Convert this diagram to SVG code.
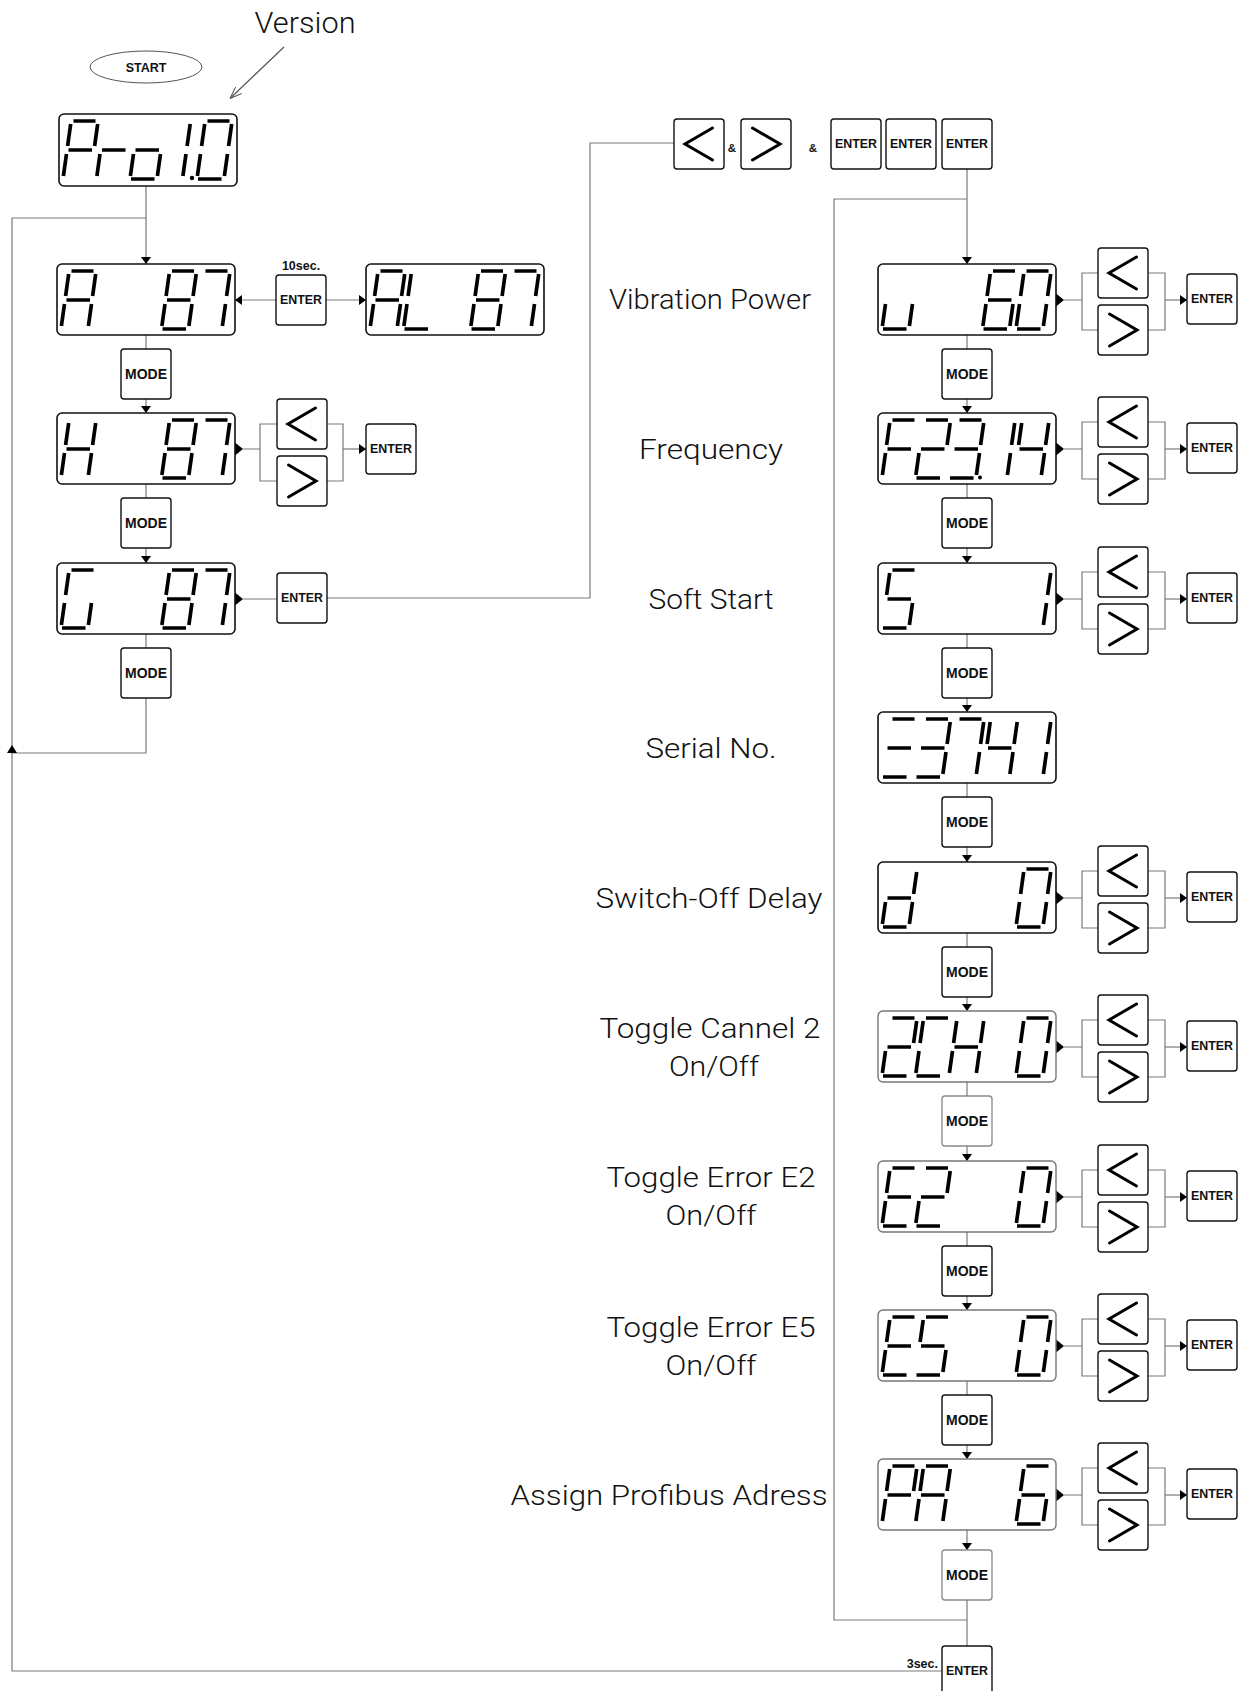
<svg xmlns="http://www.w3.org/2000/svg" width="1244" height="1691" viewBox="0 0 1244 1691">
<style>
.ln{fill:none;stroke:#7a7a7a;stroke-width:1.2}
.dsp{fill:#fff;stroke:#111;stroke-width:1.6}
.dspg{fill:#fff;stroke:#777;stroke-width:1.4}
.seg{fill:none;stroke:#000;stroke-width:3.7}
.bx{fill:#fff;stroke:#111;stroke-width:1.4}
.bxg{fill:#fff;stroke:#888;stroke-width:1.3}
.chv{fill:none;stroke:#000;stroke-width:3;stroke-linecap:round}
.bt{font-family:"Liberation Sans",Arial,sans-serif;font-weight:bold;text-anchor:middle;fill:#111}
.en{font-size:12.4px}
.md{font-size:14px}
.sm{font-size:12.5px;font-weight:900}
.lab{font-family:Roboto,"Liberation Sans",sans-serif;font-weight:300;font-size:28px;text-anchor:middle;fill:#111}
.tri{fill:#000;stroke:none}
</style>
<defs>
<marker id="ah" viewBox="0 0 7 10" refX="7" refY="5" markerWidth="7" markerHeight="10" markerUnits="userSpaceOnUse" orient="auto"><path d="M0,0L7,5L0,10z" fill="#000"/></marker>
<marker id="oa" viewBox="0 0 12 9" refX="12" refY="4.5" markerWidth="12" markerHeight="9" markerUnits="userSpaceOnUse" orient="auto"><path d="M0,0L12,4.5L0,9" fill="none" stroke="#555" stroke-width="1"/></marker>
<path id="tr" class="tri" d="M0,-6.5L8,0L0,6.5z"/>
<path id="ch-l" class="chv" d="M38.5,9L11,25L38.5,41"/>
<path id="ch-g" class="chv" d="M11.5,9L39,25L11.5,41"/>
<path id="g-0" class="seg" d="M10.5,-58H32.5M31.6,-33L34.7,-55M27.4,-3L30.5,-25M1,0H24.5M0.4,-3L3.5,-25M4.6,-33L7.7,-55"/>
<path id="g-1" class="seg" d="M31.6,-33L34.7,-55M27.4,-3L30.5,-25"/>
<path id="g-2" class="seg" d="M10.5,-58H32.5M31.6,-33L34.7,-55M5.5,-29H29M0.4,-3L3.5,-25M1,0H24.5"/>
<path id="g-3" class="seg" d="M10.5,-58H32.5M31.6,-33L34.7,-55M5.5,-29H29M27.4,-3L30.5,-25M1,0H24.5"/>
<path id="g-4" class="seg" d="M4.6,-33L7.7,-55M5.5,-29H29M31.6,-33L34.7,-55M27.4,-3L30.5,-25"/>
<path id="g-5" class="seg" d="M10.5,-58H32.5M4.6,-33L7.7,-55M5.5,-29H29M27.4,-3L30.5,-25M1,0H24.5"/>
<path id="g-6" class="seg" d="M10.5,-58H32.5M4.6,-33L7.7,-55M5.5,-29H29M0.4,-3L3.5,-25M1,0H24.5M27.4,-3L30.5,-25"/>
<path id="g-7" class="seg" d="M10.5,-58H32.5M31.6,-33L34.7,-55M27.4,-3L30.5,-25"/>
<path id="g-8" class="seg" d="M10.5,-58H32.5M31.6,-33L34.7,-55M27.4,-3L30.5,-25M1,0H24.5M0.4,-3L3.5,-25M4.6,-33L7.7,-55M5.5,-29H29"/>
<path id="g-A" class="seg" d="M10.5,-58H32.5M31.6,-33L34.7,-55M27.4,-3L30.5,-25M0.4,-3L3.5,-25M4.6,-33L7.7,-55M5.5,-29H29"/>
<path id="g-C" class="seg" d="M10.5,-58H32.5M1,0H24.5M0.4,-3L3.5,-25M4.6,-33L7.7,-55"/>
<path id="g-E" class="seg" d="M10.5,-58H32.5M1,0H24.5M0.4,-3L3.5,-25M4.6,-33L7.7,-55M5.5,-29H29"/>
<path id="g-F" class="seg" d="M10.5,-58H32.5M0.4,-3L3.5,-25M4.6,-33L7.7,-55M5.5,-29H29"/>
<path id="g-G" class="seg" d="M10.5,-58H32.5M27.4,-3L30.5,-25M1,0H24.5M0.4,-3L3.5,-25M4.6,-33L7.7,-55"/>
<path id="g-H" class="seg" d="M31.6,-33L34.7,-55M27.4,-3L30.5,-25M0.4,-3L3.5,-25M4.6,-33L7.7,-55M5.5,-29H29"/>
<path id="g-L" class="seg" d="M1,0H24.5M0.4,-3L3.5,-25M4.6,-33L7.7,-55"/>
<path id="g-P" class="seg" d="M10.5,-58H32.5M31.6,-33L34.7,-55M0.4,-3L3.5,-25M4.6,-33L7.7,-55M5.5,-29H29"/>
<path id="g-d" class="seg" d="M31.6,-33L34.7,-55M27.4,-3L30.5,-25M1,0H24.5M0.4,-3L3.5,-25M5.5,-29H29"/>
<path id="g-r" class="seg" d="M0.4,-3L3.5,-25M5.5,-29H29"/>
<path id="g-o" class="seg" d="M27.4,-3L30.5,-25M1,0H24.5M0.4,-3L3.5,-25M5.5,-29H29"/>
<path id="g-u" class="seg" d="M27.4,-3L30.5,-25M1,0H24.5M0.4,-3L3.5,-25"/>
<path id="g-eq" class="seg" d="M10.5,-58H32.5M5.5,-29H29M1,0H24.5"/>
</defs>
<rect width="1244" height="1691" fill="#fff"/>

<g id="connectors" class="ln">
<path d="M284,47L230,98.5" stroke="#555" marker-end="url(#oa)"/>
<path d="M146,186V264" marker-end="url(#ah)"/>
<path d="M942,1671H12V218H146"/>
<path d="M146,335V349"/>
<path d="M146,399V413" marker-end="url(#ah)"/>
<path d="M276,300H235" marker-end="url(#ah)"/>
<path d="M326,300H366" marker-end="url(#ah)"/>
<path d="M146,484V498"/>
<path d="M146,548V563" marker-end="url(#ah)"/>
<path d="M243,449H260M277,424H260V481H277M327,424H343V481H327"/>
<path d="M343,449H366" marker-end="url(#ah)"/>
<path d="M243,599H277"/>
<path d="M327,598H590V143H674"/>
<path d="M146,634V648"/>
<path d="M146,698V753H12"/>
<path d="M967,169V264" marker-end="url(#ah)"/>
<path d="M967,199H834V1620H967"/>
<path d="M1064,300H1082M1098,273H1082V330H1098M1148,273H1165V330H1148"/>
<path d="M1165,300H1187" marker-end="url(#ah)"/>
<path d="M967,335V349"/>
<path d="M967,399V413" marker-end="url(#ah)"/>
<path d="M1064,449H1082M1098,422H1082V479H1098M1148,422H1165V479H1148"/>
<path d="M1165,449H1187" marker-end="url(#ah)"/>
<path d="M967,484V498"/>
<path d="M967,548V563" marker-end="url(#ah)"/>
<path d="M1064,599H1082M1098,572H1082V629H1098M1148,572H1165V629H1148"/>
<path d="M1165,599H1187" marker-end="url(#ah)"/>
<path d="M967,634V648"/>
<path d="M967,698V712" marker-end="url(#ah)"/>
<path d="M967,783V797"/>
<path d="M967,847V862" marker-end="url(#ah)"/>
<path d="M1064,898H1082M1098,871H1082V928H1098M1148,871H1165V928H1148"/>
<path d="M1165,898H1187" marker-end="url(#ah)"/>
<path d="M967,933V947"/>
<path d="M967,997V1011" marker-end="url(#ah)"/>
<path d="M1064,1047H1082M1098,1020H1082V1077H1098M1148,1020H1165V1077H1148"/>
<path d="M1165,1047H1187" marker-end="url(#ah)"/>
<path d="M967,1082V1096"/>
<path d="M967,1146V1161" marker-end="url(#ah)"/>
<path d="M1064,1197H1082M1098,1170H1082V1227H1098M1148,1170H1165V1227H1148"/>
<path d="M1165,1197H1187" marker-end="url(#ah)"/>
<path d="M967,1232V1246"/>
<path d="M967,1296V1310" marker-end="url(#ah)"/>
<path d="M1064,1346H1082M1098,1319H1082V1376H1098M1148,1319H1165V1376H1148"/>
<path d="M1165,1346H1187" marker-end="url(#ah)"/>
<path d="M967,1381V1395"/>
<path d="M967,1445V1459" marker-end="url(#ah)"/>
<path d="M1064,1495H1082M1098,1468H1082V1525H1098M1148,1468H1165V1525H1148"/>
<path d="M1165,1495H1187" marker-end="url(#ah)"/>
<path d="M967,1530V1550" marker-end="url(#ah)"/>
<path d="M967,1600V1646"/>
<polygon class="tri" points="12,745 7,753 17,753"/>
<use href="#tr" x="235" y="449"/>
<use href="#tr" x="235" y="599"/>
<use href="#tr" x="1056" y="300"/>
<use href="#tr" x="1056" y="449"/>
<use href="#tr" x="1056" y="599"/>
<use href="#tr" x="1056" y="898"/>
<use href="#tr" x="1056" y="1047"/>
<use href="#tr" x="1056" y="1197"/>
<use href="#tr" x="1056" y="1346"/>
<use href="#tr" x="1056" y="1495"/>
</g>

<g id="labels">
<text class="lab" x="305" y="33" style="font-size:30px" textLength="101" lengthAdjust="spacingAndGlyphs">Version</text>
<text class="lab" x="710" y="309" textLength="202" lengthAdjust="spacingAndGlyphs">Vibration Power</text>
<text class="lab" x="711" y="459" textLength="144" lengthAdjust="spacingAndGlyphs">Frequency</text>
<text class="lab" x="711" y="609" textLength="125" lengthAdjust="spacingAndGlyphs">Soft Start</text>
<text class="lab" x="711" y="758" textLength="131" lengthAdjust="spacingAndGlyphs">Serial No.</text>
<text class="lab" x="709" y="908" textLength="227" lengthAdjust="spacingAndGlyphs">Switch-Off Delay</text>
<text class="lab" x="710" y="1038" textLength="221" lengthAdjust="spacingAndGlyphs">Toggle Cannel 2</text>
<text class="lab" x="714" y="1076" textLength="90" lengthAdjust="spacingAndGlyphs">On/Off</text>
<text class="lab" x="711" y="1187" textLength="209" lengthAdjust="spacingAndGlyphs">Toggle Error E2</text>
<text class="lab" x="711" y="1225" textLength="91" lengthAdjust="spacingAndGlyphs">On/Off</text>
<text class="lab" x="711" y="1337" textLength="209" lengthAdjust="spacingAndGlyphs">Toggle Error E5</text>
<text class="lab" x="711" y="1375" textLength="91" lengthAdjust="spacingAndGlyphs">On/Off</text>
<text class="lab" x="669" y="1505" textLength="317" lengthAdjust="spacingAndGlyphs">Assign Profibus Adress</text>
</g>

<g id="start"><ellipse cx="146" cy="67" rx="56" ry="16" fill="#fff" stroke="#555" stroke-width="1"/><text class="bt" style="font-size:12.5px" x="146" y="71.5">START</text></g>

<g id="disp-pro"><rect class="dsp" x="59" y="114" width="178" height="72" rx="5"/><use href="#g-P" x="63" y="179"/><use href="#g-r" x="96.5" y="179"/><use href="#g-o" x="130" y="179"/><use href="#g-1" x="155.5" y="179"/><circle cx="192" cy="178" r="2.2"/><use href="#g-0" x="197" y="179"/></g>
<g id="disp-a"><rect class="dsp" x="57" y="264" width="178" height="71" rx="5"/><use href="#g-A" x="61" y="329"/><use href="#g-8" x="161.5" y="329"/><use href="#g-7" x="195" y="329"/></g>
<g id="btn-enter-10s"><rect class="bx" x="276" y="275" width="50" height="50" rx="3"/><text class="bt en" x="301" y="304.4">ENTER</text><text class="bt sm" x="301" y="270">10sec.</text></g>
<g id="disp-al"><rect class="dsp" x="366" y="264" width="178" height="71" rx="5"/><use href="#g-A" x="370" y="329"/><use href="#g-L" x="403.5" y="329"/><use href="#g-8" x="470.5" y="329"/><use href="#g-7" x="504" y="329"/></g>
<g id="btn-mode-l1"><rect class="bx" x="121" y="349" width="50" height="50" rx="3"/><text class="bt md" x="146" y="379">MODE</text></g>
<g id="disp-h"><rect class="dsp" x="57" y="413" width="178" height="71" rx="5"/><use href="#g-H" x="61" y="478"/><use href="#g-8" x="161.5" y="478"/><use href="#g-7" x="195" y="478"/></g>
<g id="btn-lt-h"><rect class="bx" x="277" y="399" width="50" height="50" rx="3"/><use href="#ch-l" x="277" y="399"/></g>
<g id="btn-gt-h"><rect class="bx" x="277" y="456" width="50" height="50" rx="3"/><use href="#ch-g" x="277" y="456"/></g>
<g id="btn-enter-h"><rect class="bx" x="366" y="424" width="50" height="50" rx="3"/><text class="bt en" x="391" y="453.4">ENTER</text></g>
<g id="btn-mode-l2"><rect class="bx" x="121" y="498" width="50" height="50" rx="3"/><text class="bt md" x="146" y="528">MODE</text></g>
<g id="disp-g"><rect class="dsp" x="57" y="563" width="178" height="71" rx="5"/><use href="#g-G" x="61" y="628"/><use href="#g-8" x="161.5" y="628"/><use href="#g-7" x="195" y="628"/></g>
<g id="btn-enter-g"><rect class="bx" x="277" y="573" width="50" height="50" rx="3"/><text class="bt en" x="302" y="602.4">ENTER</text></g>
<g id="btn-mode-l3"><rect class="bx" x="121" y="648" width="50" height="50" rx="3"/><text class="bt md" x="146" y="678">MODE</text></g>

<g id="combo">
<rect class="bx" x="674" y="119" width="50" height="50" rx="3"/><use href="#ch-l" x="674" y="119"/>
<text class="bt sm" x="732" y="152" style="font-size:11.5px">&amp;</text>
<rect class="bx" x="741" y="119" width="50" height="50" rx="3"/><use href="#ch-g" x="741" y="119"/>
<text class="bt sm" x="813" y="152" style="font-size:11.5px">&amp;</text>
<rect class="bx" x="831" y="119" width="50" height="50" rx="3"/><text class="bt en" x="856" y="148.4">ENTER</text>
<rect class="bx" x="886" y="119" width="50" height="50" rx="3"/><text class="bt en" x="911" y="148.4">ENTER</text>
<rect class="bx" x="942" y="119" width="50" height="50" rx="3"/><text class="bt en" x="967" y="148.4">ENTER</text>
</g>

<g id="row-vib">
<rect class="dsp" x="878" y="264" width="178" height="71" rx="5"/><use href="#g-u" x="882" y="329"/><use href="#g-6" x="982.5" y="329"/><use href="#g-0" x="1016" y="329"/>
<rect class="bx" x="1098" y="248" width="50" height="50" rx="3"/><use href="#ch-l" x="1098" y="248"/>
<rect class="bx" x="1098" y="305" width="50" height="50" rx="3"/><use href="#ch-g" x="1098" y="305"/>
<rect class="bx" x="1187" y="274" width="50" height="50" rx="3"/><text class="bt en" x="1212" y="303.4">ENTER</text>
<rect class="bx" x="942" y="349" width="50" height="50" rx="3"/><text class="bt md" x="967" y="379">MODE</text>
</g>
<g id="row-freq">
<rect class="dsp" x="878" y="413" width="178" height="71" rx="5"/><use href="#g-F" x="882" y="478"/><use href="#g-2" x="915.5" y="478"/><use href="#g-3" x="949" y="478"/><circle cx="980" cy="477.5" r="2"/><use href="#g-1" x="980" y="478"/><use href="#g-4" x="1014" y="478"/>
<rect class="bx" x="1098" y="397" width="50" height="50" rx="3"/><use href="#ch-l" x="1098" y="397"/>
<rect class="bx" x="1098" y="454" width="50" height="50" rx="3"/><use href="#ch-g" x="1098" y="454"/>
<rect class="bx" x="1187" y="423" width="50" height="50" rx="3"/><text class="bt en" x="1212" y="452.4">ENTER</text>
<rect class="bx" x="942" y="498" width="50" height="50" rx="3"/><text class="bt md" x="967" y="528">MODE</text>
</g>
<g id="row-soft">
<rect class="dsp" x="878" y="563" width="178" height="71" rx="5"/><use href="#g-5" x="882" y="628"/><use href="#g-1" x="1016" y="628"/>
<rect class="bx" x="1098" y="547" width="50" height="50" rx="3"/><use href="#ch-l" x="1098" y="547"/>
<rect class="bx" x="1098" y="604" width="50" height="50" rx="3"/><use href="#ch-g" x="1098" y="604"/>
<rect class="bx" x="1187" y="573" width="50" height="50" rx="3"/><text class="bt en" x="1212" y="602.4">ENTER</text>
<rect class="bx" x="942" y="648" width="50" height="50" rx="3"/><text class="bt md" x="967" y="678">MODE</text>
</g>
<g id="row-serial">
<rect class="dsp" x="878" y="712" width="178" height="71" rx="5"/><use href="#g-eq" x="882" y="777"/><use href="#g-3" x="915.5" y="777"/><use href="#g-7" x="949" y="777"/><use href="#g-4" x="982.5" y="777"/><use href="#g-1" x="1016" y="777"/>
<rect class="bx" x="942" y="797" width="50" height="50" rx="3"/><text class="bt md" x="967" y="827">MODE</text>
</g>
<g id="row-delay">
<rect class="dsp" x="878" y="862" width="178" height="71" rx="5"/><use href="#g-d" x="882" y="927"/><use href="#g-0" x="1016" y="927"/>
<rect class="bx" x="1098" y="846" width="50" height="50" rx="3"/><use href="#ch-l" x="1098" y="846"/>
<rect class="bx" x="1098" y="903" width="50" height="50" rx="3"/><use href="#ch-g" x="1098" y="903"/>
<rect class="bx" x="1187" y="872" width="50" height="50" rx="3"/><text class="bt en" x="1212" y="901.4">ENTER</text>
<rect class="bx" x="942" y="947" width="50" height="50" rx="3"/><text class="bt md" x="967" y="977">MODE</text>
</g>
<g id="row-2ch">
<rect class="dspg" x="878" y="1011" width="178" height="71" rx="5"/><use href="#g-2" x="882" y="1076"/><use href="#g-C" x="915.5" y="1076"/><use href="#g-H" x="949" y="1076"/><use href="#g-0" x="1016" y="1076"/>
<rect class="bx" x="1098" y="995" width="50" height="50" rx="3"/><use href="#ch-l" x="1098" y="995"/>
<rect class="bx" x="1098" y="1052" width="50" height="50" rx="3"/><use href="#ch-g" x="1098" y="1052"/>
<rect class="bx" x="1187" y="1021" width="50" height="50" rx="3"/><text class="bt en" x="1212" y="1050.4">ENTER</text>
<rect class="bxg" x="942" y="1096" width="50" height="50" rx="3"/><text class="bt md" x="967" y="1126">MODE</text>
</g>
<g id="row-e2">
<rect class="dspg" x="878" y="1161" width="178" height="71" rx="5"/><use href="#g-E" x="882" y="1226"/><use href="#g-2" x="915.5" y="1226"/><use href="#g-0" x="1016" y="1226"/>
<rect class="bx" x="1098" y="1145" width="50" height="50" rx="3"/><use href="#ch-l" x="1098" y="1145"/>
<rect class="bx" x="1098" y="1202" width="50" height="50" rx="3"/><use href="#ch-g" x="1098" y="1202"/>
<rect class="bx" x="1187" y="1171" width="50" height="50" rx="3"/><text class="bt en" x="1212" y="1200.4">ENTER</text>
<rect class="bx" x="942" y="1246" width="50" height="50" rx="3"/><text class="bt md" x="967" y="1276">MODE</text>
</g>
<g id="row-e5">
<rect class="dspg" x="878" y="1310" width="178" height="71" rx="5"/><use href="#g-E" x="882" y="1375"/><use href="#g-5" x="915.5" y="1375"/><use href="#g-0" x="1016" y="1375"/>
<rect class="bx" x="1098" y="1294" width="50" height="50" rx="3"/><use href="#ch-l" x="1098" y="1294"/>
<rect class="bx" x="1098" y="1351" width="50" height="50" rx="3"/><use href="#ch-g" x="1098" y="1351"/>
<rect class="bx" x="1187" y="1320" width="50" height="50" rx="3"/><text class="bt en" x="1212" y="1349.4">ENTER</text>
<rect class="bx" x="942" y="1395" width="50" height="50" rx="3"/><text class="bt md" x="967" y="1425">MODE</text>
</g>
<g id="row-pa">
<rect class="dspg" x="878" y="1459" width="178" height="71" rx="5"/><use href="#g-P" x="882" y="1524"/><use href="#g-A" x="915.5" y="1524"/><use href="#g-6" x="1016" y="1524"/>
<rect class="bx" x="1098" y="1443" width="50" height="50" rx="3"/><use href="#ch-l" x="1098" y="1443"/>
<rect class="bx" x="1098" y="1500" width="50" height="50" rx="3"/><use href="#ch-g" x="1098" y="1500"/>
<rect class="bx" x="1187" y="1469" width="50" height="50" rx="3"/><text class="bt en" x="1212" y="1498.4">ENTER</text>
<rect class="bxg" x="942" y="1550" width="50" height="50" rx="3"/><text class="bt md" x="967" y="1580">MODE</text>
</g>
<g id="btn-enter-3s"><rect class="bx" x="942" y="1646" width="50" height="50" rx="3"/><text class="bt en" x="967" y="1675.4">ENTER</text><text class="bt sm" x="938" y="1668" style="text-anchor:end">3sec.</text></g>
</svg>
